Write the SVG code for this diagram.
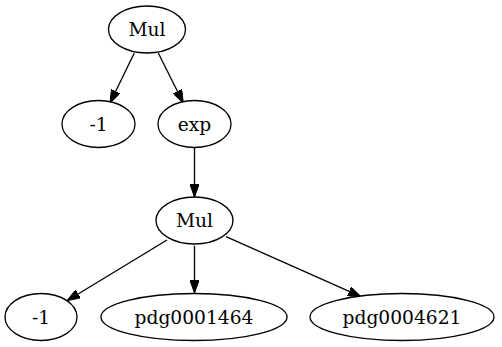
<svg xmlns="http://www.w3.org/2000/svg" width="502" height="347" viewBox="0 0 502 347">
<style>
.n ellipse{fill:#fff;stroke:#000;stroke-width:1.33}
.n text{font-family:"DejaVu Serif",serif;font-size:18.67px;text-anchor:middle;fill:#000}
#edges line{stroke:#000;stroke-width:1.33}
</style>
<defs>
<marker id="ah" viewBox="0 0 13 9.4" refX="13" refY="4.7" markerWidth="13" markerHeight="9.4" markerUnits="userSpaceOnUse" orient="auto">
<path d="M0,0 L13,4.7 L0,9.4 z" fill="#000" stroke="#000" stroke-width="1"/>
</marker>
</defs>
<rect width="502" height="347" fill="#fff"/>
<g id="edges">
<line x1="134.3" y1="53" x2="110" y2="103" marker-end="url(#ah)"/>
<line x1="158.3" y1="53" x2="183.3" y2="103" marker-end="url(#ah)"/>
<line x1="194.5" y1="148" x2="194.5" y2="197" marker-end="url(#ah)"/>
<line x1="167" y1="240" x2="67" y2="300.7" marker-end="url(#ah)"/>
<line x1="194.5" y1="245.7" x2="194.5" y2="293" marker-end="url(#ah)"/>
<line x1="226" y1="236.7" x2="361" y2="296.7" marker-end="url(#ah)"/>
</g>
<g id="mul1" class="n"><ellipse cx="147" cy="29.5" rx="38.5" ry="23.5"/><text x="147" y="36">Mul</text></g>
<g id="neg1a" class="n"><ellipse cx="98.5" cy="124" rx="36.5" ry="23.5"/><text x="98.5" y="130.5">-1</text></g>
<g id="exp" class="n"><ellipse cx="194.5" cy="124" rx="36.5" ry="23.5"/><text x="194.5" y="130.5">exp</text></g>
<g id="mul2" class="n"><ellipse cx="194.5" cy="220.5" rx="38.5" ry="23.5"/><text x="194.5" y="227">Mul</text></g>
<g id="neg1b" class="n"><ellipse cx="41" cy="317" rx="36" ry="23.5"/><text x="41" y="323.5">-1</text></g>
<g id="pdg1" class="n"><ellipse cx="194" cy="317" rx="93" ry="23.5"/><text x="194" y="323.5">pdg0001464</text></g>
<g id="pdg2" class="n"><ellipse cx="402" cy="317" rx="92" ry="23.5"/><text x="402" y="323.5">pdg0004621</text></g>
</svg>
